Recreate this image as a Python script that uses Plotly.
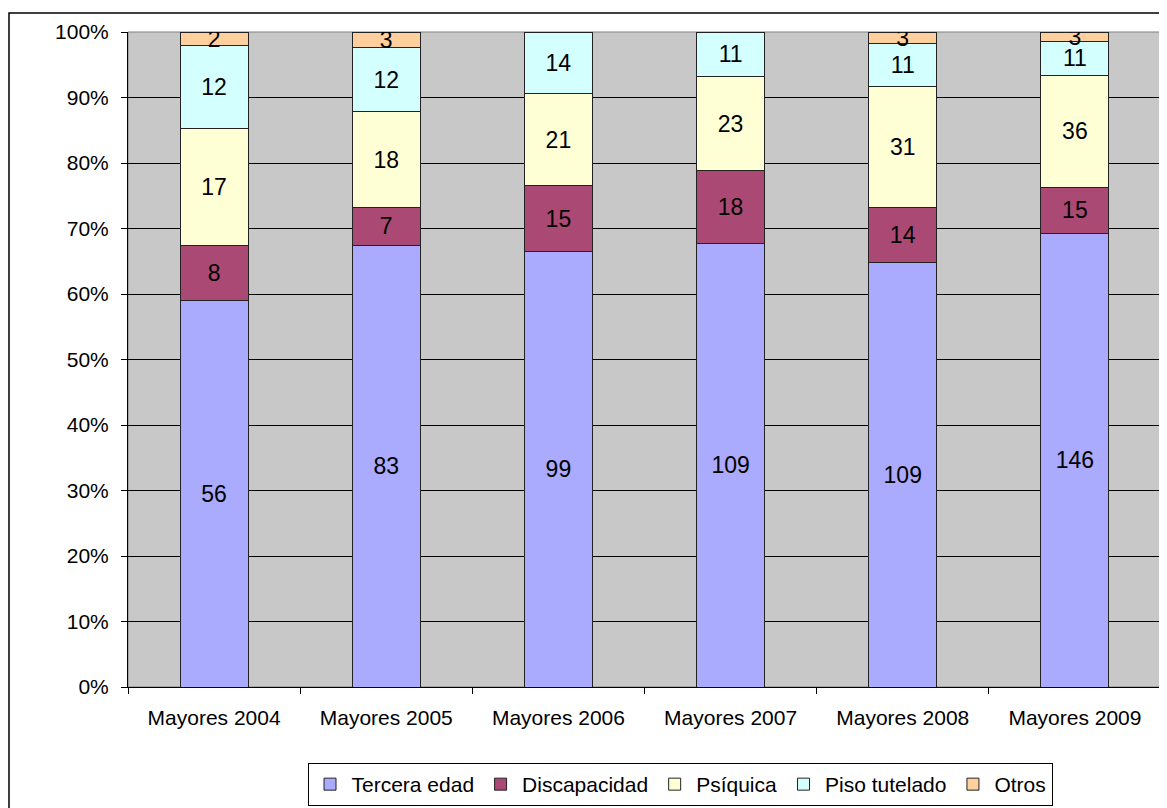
import plotly.graph_objects as go

# data (counts per category, shown as % of each bar)
years = ['Mayores 2004', 'Mayores 2005', 'Mayores 2006', 'Mayores 2007', 'Mayores 2008', 'Mayores 2009']
tercera_edad = [56, 83, 99, 109, 109, 146]
discapacidad = [8, 7, 15, 18, 14, 15]
psiquica = [17, 18, 21, 23, 31, 36]
piso_tutelado = [12, 12, 14, 11, 11, 11]
otros = [2, 3, 0, 0, 3, 3]

series = [('Tercera edad', tercera_edad, '#AAAAFF'),
          ('Discapacidad', discapacidad, '#AA4A74'),
          ('Psíquica', psiquica, '#FFFFD6'),
          ('Piso tutelado', piso_tutelado, '#D4FFFF'),
          ('Otros', otros, '#FFD09E')]

# page body has an 8px margin, so the figure is drawn from (8, 8)
W, H = 1159, 800
L, R, T, B = 120, 6, 24, 121
pw, ph = W - L - R, H - T - B

fig = go.Figure()
for name, vals, col in series:
    fig.add_trace(go.Bar(x=years, y=vals, name=name, marker_color=col,
                         marker_line=dict(color='#222222', width=1),
                         text=[str(v) if v else '' for v in vals], textposition='inside',
                         insidetextanchor='middle', textangle=0,
                         textfont=dict(color='black', size=23)))

# outer chart border (runs off the right/bottom of the page) and plot border
fig.add_shape(type='rect', xref='paper', yref='paper',
              x0=(1 - L) / pw, x1=(W + 10 - L) / pw, y0=(T + ph - 810) / ph, y1=(T + ph - 5) / ph,
              line=dict(color='black', width=1.5), layer='below')
fig.add_shape(type='rect', xref='paper', yref='paper', x0=0, x1=1, y0=0, y1=1,
              line=dict(color='#808080', width=1), layer='below')

fig.update_layout(
    barmode='stack', barnorm='percent', bargap=0.605,
    width=W, height=H, margin=dict(l=L, r=R, t=T, b=B, autoexpand=False),
    paper_bgcolor='white', plot_bgcolor='#C8C8C8',
    font=dict(family='Liberation Sans, Arial', size=21, color='black'),
    uniformtext=dict(minsize=23, mode='show'),
    legend=dict(orientation='h', x=(672 - L) / pw, xanchor='center', y=(T + ph - 755) / ph, yanchor='top',
                traceorder='normal', bordercolor='black', borderwidth=1, bgcolor='white',
                font=dict(size=21), itemwidth=33),
    showlegend=True,
)
fig.update_xaxes(range=[-0.5, 5.5], showgrid=False, showline=True, linecolor='black', linewidth=1,
                 ticks='outside', tickson='boundaries', ticklen=6, tickcolor='black',
                 ticklabelstandoff=12, automargin=False)
fig.update_yaxes(range=[0, 100], dtick=10, ticksuffix='%', showgrid=True, gridcolor='black', gridwidth=1,
                 showline=True, linecolor='black', linewidth=1, zeroline=False,
                 ticks='outside', ticklen=6, tickcolor='black', ticklabelstandoff=8, automargin=False)

fig.write_html('out.html')
